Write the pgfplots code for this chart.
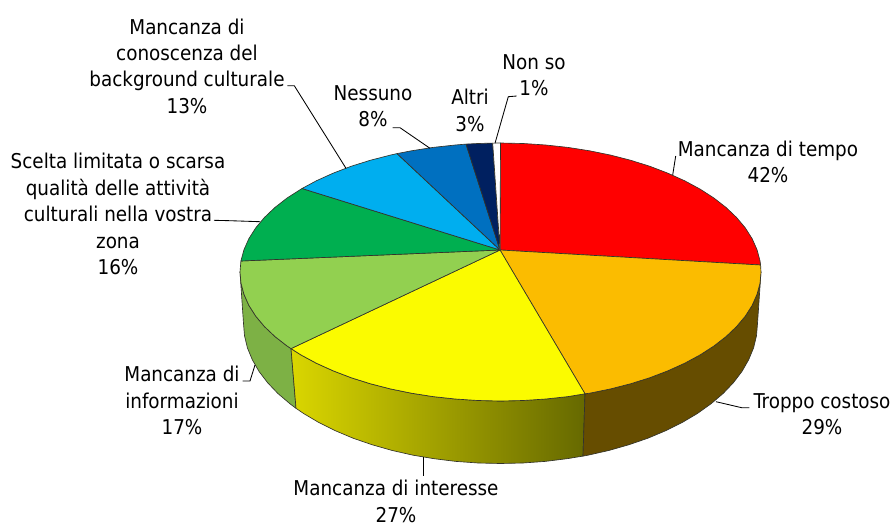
\documentclass[border=0pt]{standalone}
\usepackage{pgfplots}
\pgfplotsset{compat=1.18}
\usepackage{fontspec}
\setmainfont{DejaVu Sans Condensed}
\definecolor{cred}{HTML}{FF0000}
\definecolor{corange}{HTML}{FBBC00}
\definecolor{cyellow}{HTML}{FBFB00}
\definecolor{clgreen}{HTML}{92D050}
\definecolor{cgreen}{HTML}{00AF50}
\definecolor{csky}{HTML}{00AEEF}
\definecolor{cblue}{HTML}{0070C0}
\definecolor{cnavy}{HTML}{002060}
\definecolor{sorange}{HTML}{664D00}
\definecolor{syl}{HTML}{DAD600}
\definecolor{syr}{HTML}{666900}
\definecolor{sgreen}{HTML}{7DB145}
\definecolor{edge}{HTML}{33332A}
\tikzset{
  slice/.style={draw=edge, line width=0.65pt, line join=round},
  lead/.style={draw=black, line width=0.85pt, mark=none},
  lab/.style={font=\fontsize{20.4}{26.4}\selectfont, align=center, inner sep=0pt, text=black},
}
\begin{document}
\begin{tikzpicture}
\useasboundingbox (0,0) rectangle (895pt,525pt);
\begin{axis}[
  at={(0,0)}, anchor=south west,
  scale only axis, width=895pt, height=525pt,
  xmin=0, xmax=895, ymin=0, ymax=525, y dir=reverse,
  hide axis, clip=false,
]
% side walls
\addplot[slice, fill=sgreen] coordinates {
 (240.0,272.0) (241.0,283.2) (244.0,294.4) (248.9,305.4) (255.7,316.1) (264.4,326.5) (274.9,336.5) (287.1,346.0) (291,348.6)
 (296,408.3) (290.0,403.8) (277.9,393.5) (267.6,382.7) (259.0,371.4) (252.3,359.7) (247.4,347.8) (244.5,335.7) (243.5,323.5)
} -- cycle;
\addplot[slice, left color=syl, right color=syr] coordinates {
 (291,348.6) (300.9,354.9) (316.3,363.2) (333.1,370.8) (351.1,377.7) (370.2,383.7) (390.4,388.9) (411.4,393.2) (433.1,396.6) (455.3,399.0) (477.8,400.5) (500.5,401.0) (523.2,400.5) (545.7,399.0) (567.9,396.6) (585,393.8)
 (583,456.1) (567.0,458.7) (545.1,461.4) (522.9,463.0) (500.5,463.5) (478.1,463.0) (455.9,461.4) (434.0,458.7) (412.6,455.1) (391.9,450.4) (372.0,444.7) (353.1,438.2) (335.3,430.7) (318.8,422.5) (303.6,413.5) (296,408.3)
} -- cycle;
\addplot[slice, fill=sorange] coordinates {
 (585,393.8) (589.6,393.2) (610.6,388.9) (630.8,383.7) (649.9,377.7) (667.9,370.8) (684.7,363.2) (700.1,354.9) (713.9,346.0) (726.1,336.5) (736.6,326.5) (745.3,316.1) (752.1,305.4) (757.0,294.4) (760.0,283.2) (761.0,272.0)
 (757.5,323.5) (756.5,335.7) (753.6,347.8) (748.7,359.7) (742.0,371.4) (733.4,382.7) (723.1,393.5) (711.0,403.8) (697.4,413.5) (682.2,422.5) (665.7,430.7) (647.9,438.2) (629.0,444.7) (609.1,450.4) (588.4,455.1) (583,456.1)
} -- cycle;
% top slices
\addplot[slice, fill=cred] coordinates {
 (500,250) (500.5,143.0) (523.2,143.5) (545.7,145.0) (567.9,147.4) (589.6,150.8) (610.6,155.1) (630.8,160.3) (649.9,166.3) (667.9,173.2) (684.7,180.8) (700.1,189.1) (713.9,198.0) (726.1,207.5) (736.6,217.5) (745.3,227.9) (752.1,238.6) (757.0,249.6) (760.0,260.8) (760.6,265.0)
} -- cycle;
\addplot[slice, fill=corange] coordinates {
 (500,250) (760.6,265.0) (761.0,272.0) (760.0,283.2) (757.0,294.4) (752.1,305.4) (745.3,316.1) (736.6,326.5) (726.1,336.5) (713.9,346.0) (700.1,354.9) (684.7,363.2) (667.9,370.8) (649.9,377.7) (630.8,383.7) (610.6,388.9) (589.6,393.2) (585,393.8)
} -- cycle;
\addplot[slice, fill=cyellow] coordinates {
 (500,250) (585,393.8) (567.9,396.6) (545.7,399.0) (523.2,400.5) (500.5,401.0) (477.8,400.5) (455.3,399.0) (433.1,396.6) (411.4,393.2) (390.4,388.9) (370.2,383.7) (351.1,377.7) (333.1,370.8) (316.3,363.2) (300.9,354.9) (291,348.6)
} -- cycle;
\addplot[slice, fill=clgreen] coordinates {
 (500,250) (291,348.6) (287.1,346.0) (274.9,336.5) (264.4,326.5) (255.7,316.1) (248.9,305.4) (244.0,294.4) (241.0,283.2) (240.0,272.0) (240.9,261.0)
} -- cycle;
\addplot[slice, fill=cgreen] coordinates {
 (500,250) (240.9,261.0) (244.0,249.6) (248.9,238.6) (255.7,227.9) (264.4,217.5) (274.9,207.5) (287.1,198.0) (302,188.5)
} -- cycle;
\addplot[slice, fill=csky] coordinates {
 (500,250) (302,188.5) (316.3,180.8) (333.1,173.2) (351.1,166.3) (370.2,160.3) (390.4,155.1) (397,153.6)
} -- cycle;
\addplot[slice, fill=cblue] coordinates {
 (500,250) (397,153.6) (411.4,150.8) (433.1,147.4) (455.3,145.0) (466,144.1)
} -- cycle;
\addplot[slice, fill=cnavy] coordinates {
 (500,250) (466,144.1) (477.8,143.5) (492.7,143.1)
} -- cycle;
\addplot[slice, fill=white] coordinates {
 (500,250) (492.7,143.1) (500.5,143.0)
} -- cycle;
% leaders
\addplot[lead] coordinates {(495,143.3) (508.3,96.7) (516.7,96)};
\addplot[lead] coordinates {(430,148.3) (400,127.7) (392.7,127.7)};
\addplot[lead] coordinates {(346,168.3) (294.3,85.7) (287.3,85.7)};
\addplot[lead] coordinates {(260,221.7) (230,220.7) (214,220.3)};
\addplot[lead] coordinates {(255,365) (250,381) (242.7,381)};
\addplot[lead] coordinates {(423,456.7) (423,476)};
\addplot[lead] coordinates {(716,401.7) (741.7,407.7) (749.3,407.7)};
\addplot[lead] coordinates {(672.7,175) (675.7,156)};
% labels
\node[lab] at (axis cs:187,66) {Mancanza di\\conoscenza del\\background culturale\\13\%};
\node[lab] at (axis cs:373,106) {Nessuno\\8\%};
\node[lab] at (axis cs:470,110.5) {Altri\\3\%};
\node[lab] at (axis cs:534,75.5) {Non so\\1\%};
\node[lab] at (axis cs:768,162) {Mancanza di tempo\\42\%};
\node[lab] at (axis cs:822,414) {Troppo costoso\\29\%};
\node[lab] at (axis cs:396,501.5) {Mancanza di interesse\\27\%};
\node[lab] at (axis cs:182,400.5) {Mancanza di\\informazioni\\17\%};
\node[lab] at (axis cs:118,214) {Scelta limitata o scarsa\\qualità delle attività\\culturali nella vostra\\zona\\16\%};
\end{axis}
\end{tikzpicture}
\end{document}
